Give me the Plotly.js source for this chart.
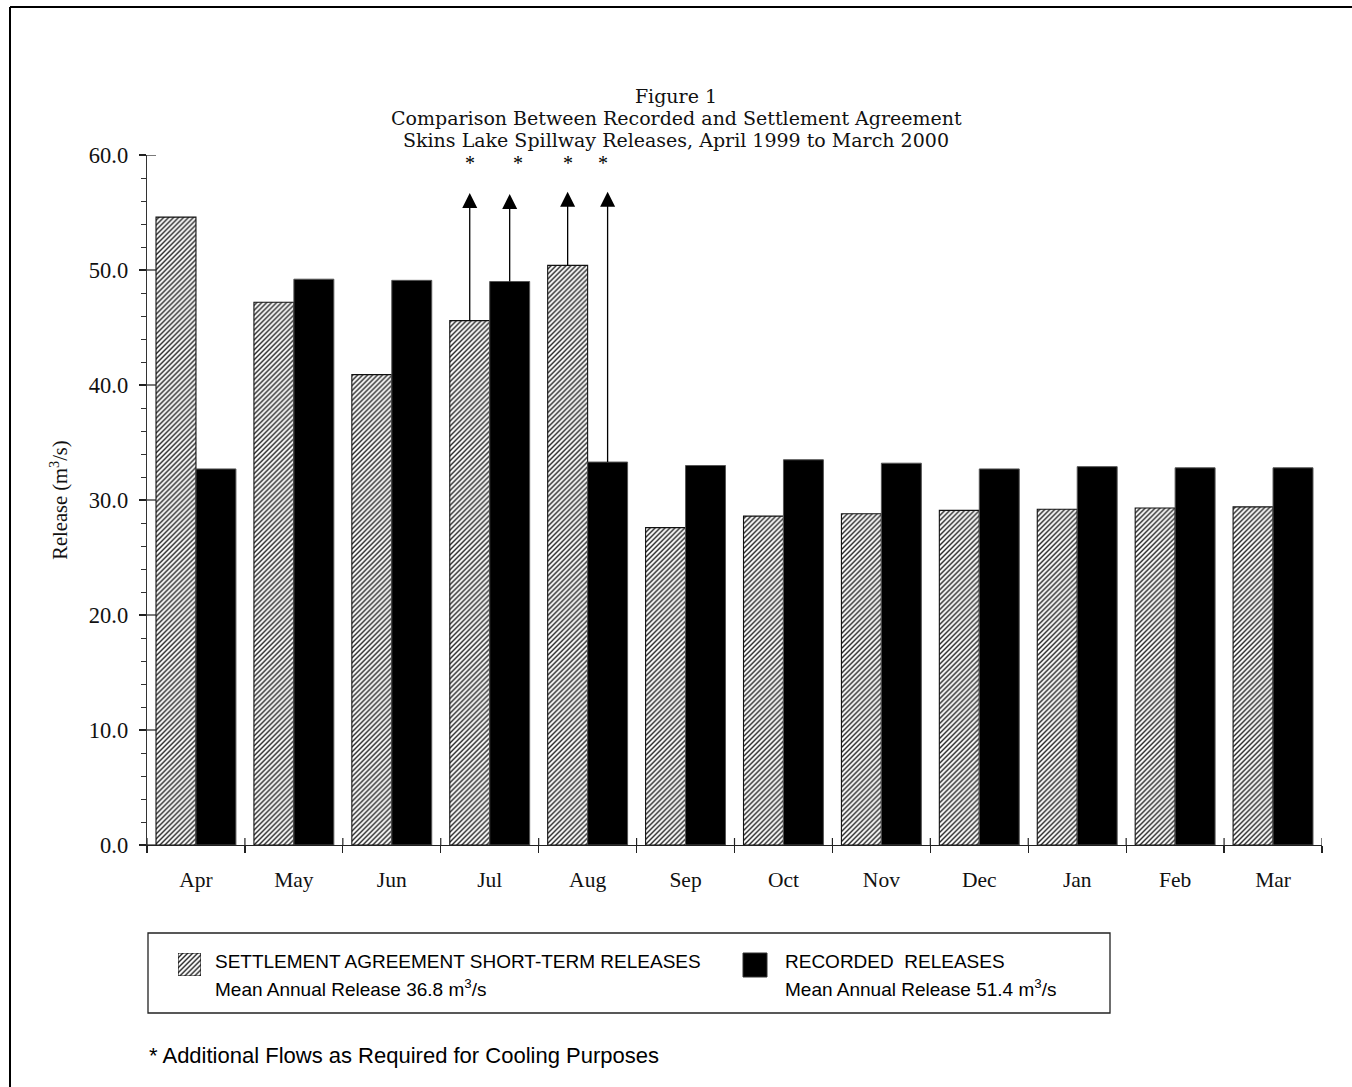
<!DOCTYPE html>
<html>
<head>
<meta charset="utf-8">
<script src="https://cdn.plot.ly/plotly-3.0.1.min.js"></script>
<style>html,body{margin:0;padding:0;background:#fff;}#chart{width:1352px;height:1087px;}</style>
</head>
<body>
<div id="chart"></div>
<script>
// ---- data ----
var months = ['Apr','May','Jun','Jul','Aug','Sep','Oct','Nov','Dec','Jan','Feb','Mar'];
var settlement = [54.6, 47.2, 40.9, 45.6, 50.4, 27.6, 28.6, 28.8, 29.1, 29.2, 29.3, 29.4];
var recorded   = [32.7, 49.2, 49.1, 49.0, 33.3, 33.0, 33.5, 33.2, 32.7, 32.9, 32.8, 32.8];
var settlementName = 'SETTLEMENT AGREEMENT SHORT-TERM RELEASES';
var recordedName = 'RECORDED\u00a0 RELEASES';
var settlementMean = 36.8;
var recordedMean = 51.4;
// additional cooling flows (arrows)
var arrowMonths = ['Jul','Jul','Aug','Aug'];
var arrowSeries = ['settlement','recorded','settlement','recorded'];
var arrowTips   = [56.7, 56.6, 56.8, 56.8];
var yTickVals = [0,10,20,30,40,50,60];
var titleLines = ['Figure 1', 'Comparison Between Recorded and Settlement Agreement', 'Skins Lake Spillway Releases, April 1999 to March 2000'];

// ---- layout helpers (pixel -> paper) ----
var W = 1352, H = 1087;
var mL = 147, mR = 30, mT = 155, mB = 60;
var plotW = W - mL - mR, plotH = H - mT - mB;
function px(x){ return (x - mL) / plotW; }
function py(y){ return (H - mB - y) / plotH; }
var mainBottom = py(845);

var bargap = 0.184;
var barOffset = (1 - bargap) / 4; // centre offset of each bar in a pair
var serif = 'Liberation Serif, Times New Roman, serif';
var titleSerif = 'DejaVu Serif, serif';
var sans = 'Liberation Sans, Arial, sans-serif';
var hatch = {shape: '/', fgcolor: '#222', bgcolor: 'white', size: 3.5, solidity: 0.4};

// arrow geometry from data
var shaftX = [], shaftY = [], tipX = [], tipY = [];
arrowMonths.forEach(function(m, i){
  var idx = months.indexOf(m);
  var isSet = arrowSeries[i] === 'settlement';
  var xc = idx + (isSet ? -barOffset : barOffset);
  var base = isSet ? settlement[idx] : recorded[idx];
  shaftX.push(xc, xc, null);
  shaftY.push(base, arrowTips[i] - 1.0, null);
  tipX.push(xc);
  tipY.push(arrowTips[i]);
});

var traces = [
  {
    type: 'bar', name: settlementName, x: months, y: settlement,
    marker: {color: 'white', pattern: hatch, line: {color: '#111', width: 1.1}},
    showlegend: false, hoverinfo: 'x+y'
  },
  {
    type: 'bar', name: recordedName, x: months, y: recorded,
    marker: {color: 'black', line: {color: '#555', width: 1}},
    showlegend: false, hoverinfo: 'x+y'
  },
  {
    type: 'bar', x: [0], y: [1], width: [1], xaxis: 'x3', yaxis: 'y3',
    marker: {color: 'white', pattern: hatch, line: {color: '#111', width: 1.1}},
    showlegend: false, hoverinfo: 'skip'
  },
  {
    type: 'scatter', mode: 'lines', x: shaftX, y: shaftY, xaxis: 'x4', yaxis: 'y',
    line: {color: '#000', width: 1.3}, connectgaps: false, showlegend: false, hoverinfo: 'skip', cliponaxis: false
  },
  {
    type: 'scatter', mode: 'markers', x: tipX, y: tipY, xaxis: 'x4', yaxis: 'y',
    marker: {symbol: 'arrow-up', size: 15, color: '#000', line: {width: 0}},
    showlegend: false, hoverinfo: 'skip', cliponaxis: false
  }
];

var annotations = [];
// title lines 2 and 3 (line 1 is layout.title)
var titleY = [96, 118.2, 140.4];
for (var t = 1; t < titleLines.length; t++) {
  annotations.push({text: titleLines[t], xref: 'paper', yref: 'paper', x: px(676), y: py(titleY[t]),
    xanchor: 'center', yanchor: 'middle', showarrow: false,
    font: {family: titleSerif, size: 19, color: '#111'}});
}
// asterisks
var astShift = [0, 8, 0, -5];
tipX.forEach(function(xc, i){
  annotations.push({
    x: xc, y: 60, xref: 'x', yref: 'y', text: '*', showarrow: false,
    xshift: astShift[i], yshift: -7.5, xanchor: 'center', yanchor: 'middle',
    font: {family: serif, size: 20, color: '#000'}
  });
});

// legend text
annotations.push({text: settlementName, xref: 'paper', yref: 'paper', x: px(213), y: py(961),
  xanchor: 'left', yanchor: 'middle', showarrow: false, font: {family: sans, size: 19, color: '#000'}});
annotations.push({text: 'Mean Annual Release ' + settlementMean.toFixed(1) + ' m<sup>3</sup>/s', xref: 'paper', yref: 'paper', x: px(213), y: py(988),
  xanchor: 'left', yanchor: 'middle', showarrow: false, font: {family: sans, size: 19, color: '#000'}});
annotations.push({text: recordedName, xref: 'paper', yref: 'paper', x: px(783), y: py(961),
  xanchor: 'left', yanchor: 'middle', showarrow: false, font: {family: sans, size: 19, color: '#000'}});
annotations.push({text: 'Mean Annual Release ' + recordedMean.toFixed(1) + ' m<sup>3</sup>/s', xref: 'paper', yref: 'paper', x: px(783), y: py(988),
  xanchor: 'left', yanchor: 'middle', showarrow: false, font: {family: sans, size: 19, color: '#000'}});
// footnote
annotations.push({text: '* Additional Flows as Required for Cooling Purposes', xref: 'paper', yref: 'paper', x: px(147), y: py(1055),
  xanchor: 'left', yanchor: 'middle', showarrow: false, font: {family: sans, size: 22, color: '#000'}});

var shapes = [
  // outer frame (top + left)
  {type: 'line', xref: 'paper', yref: 'paper', x0: px(10), x1: px(1360), y0: py(7), y1: py(7), line: {color: '#000', width: 2}},
  {type: 'line', xref: 'paper', yref: 'paper', x0: px(10), x1: px(10), y0: py(7), y1: py(1095), line: {color: '#000', width: 2}},
  // legend box
  {type: 'rect', xref: 'paper', yref: 'paper', x0: px(148), x1: px(1110), y0: py(1013), y1: py(933), line: {color: '#222', width: 1.3}, fillcolor: 'rgba(0,0,0,0)'},
  // recorded swatch
  {type: 'rect', xref: 'paper', yref: 'paper', x0: px(743), x1: px(767), y0: py(977), y1: py(953), line: {color: '#333', width: 1}, fillcolor: '#000'}
];
// inner halves of the crossing major ticks
yTickVals.forEach(function(v){
  shapes.push({type: 'line', xref: 'paper', yref: 'y', x0: 0, x1: 9 / plotW, y0: v, y1: v, line: {color: '#222', width: 1.2}});
});
for (var b = 0; b <= months.length; b++) {
  shapes.push({type: 'line', xref: 'x4', yref: 'paper', x0: b - 0.5, x1: b - 0.5, y0: mainBottom, y1: mainBottom + 7 / plotH, line: {color: '#222', width: 1.2}});
}

var layout = {
  width: W, height: H,
  margin: {l: mL, r: mR, t: mT, b: mB, pad: 0},
  paper_bgcolor: 'white', plot_bgcolor: 'white',
  barmode: 'group', bargap: bargap, bargroupgap: 0,
  showlegend: false,
  title: {
    text: titleLines[0],
    x: 676 / W, xref: 'container', xanchor: 'center',
    y: 1 - titleY[0] / H, yref: 'container', yanchor: 'middle',
    font: {family: titleSerif, size: 19, color: '#111'}
  },
  xaxis: {
    type: 'category', categoryorder: 'array', categoryarray: months,
    range: [-0.5, 11.5], tickson: 'boundaries', ticks: 'outside', ticklen: 7, tickwidth: 1.2, tickcolor: '#222',
    showline: true, linecolor: '#222', linewidth: 1.3, showgrid: false, zeroline: false,
    tickfont: {family: serif, size: 21.5, color: '#111'}, ticklabelstandoff: 15,
    anchor: 'y', fixedrange: true
  },
  yaxis: {
    domain: [mainBottom, 1], range: [0, 60], tickvals: yTickVals, tickformat: '.1f',
    ticks: 'outside', ticklen: 7, tickwidth: 1.2, tickcolor: '#222',
    minor: {dtick: 2, ticks: 'outside', ticklen: 5, tickwidth: 1, tickcolor: '#333', showgrid: false},
    showline: true, linecolor: '#333', linewidth: 1.3, showgrid: false, zeroline: false,
    tickfont: {family: serif, size: 22.5, color: '#111'}, ticklabelstandoff: 6,
    title: {text: 'Release (m<sup>3</sup>/s)', font: {family: serif, size: 20.5, color: '#111'}, standoff: 15},
    anchor: 'x', fixedrange: true
  },
  xaxis3: {domain: [px(178), px(201)], anchor: 'y3', range: [-0.5, 0.5], visible: false, fixedrange: true},
  yaxis3: {domain: [py(976), py(953)], anchor: 'x3', range: [0, 1], visible: false, fixedrange: true},
  xaxis4: {overlaying: 'x', anchor: 'y', type: 'linear', range: [-0.5, 11.5], visible: false, fixedrange: true},
  annotations: annotations,
  shapes: shapes
};

Plotly.newPlot('chart', traces, layout, {displayModeBar: false, staticPlot: true});
</script>
</body>
</html>
